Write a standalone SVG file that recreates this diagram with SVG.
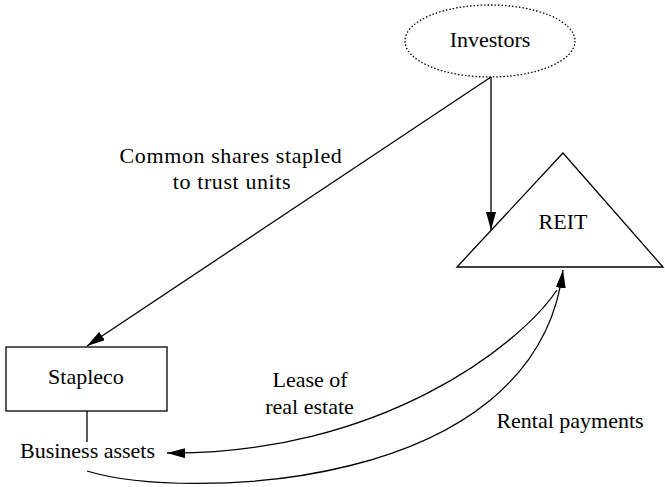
<svg xmlns="http://www.w3.org/2000/svg" width="665" height="487" viewBox="0 0 665 487">
<style>
  .shape { fill: #ffffff; stroke: #000000; stroke-width: 1.3; }
  .conn { fill: none; stroke: #000000; stroke-width: 1.3; }
</style>
<defs>
  <marker id="arrow" markerUnits="userSpaceOnUse" markerWidth="18" markerHeight="10" refX="18" refY="5" orient="auto">
    <path d="M0,0 L18,5 L0,10 Z" fill="#000000"/>
  </marker>
</defs>
<rect width="665" height="487" fill="#ffffff"/>

<g id="investors">
  <ellipse cx="490" cy="41" rx="85" ry="36" fill="#ffffff" stroke="#000000" stroke-width="1.3" stroke-dasharray="1.5 2"/>
  <text x="490" y="47" font-size="22" font-family="Times New Roman, serif" text-anchor="middle">Investors</text>
</g>

<g id="reit">
  <polygon class="shape" points="563,153 457,267 663,267"/>
  <text x="563" y="229" font-size="22" font-family="Times New Roman, serif" text-anchor="middle">REIT</text>
</g>

<g id="stapleco">
  <rect class="shape" x="6" y="347" width="161" height="64"/>
  <text x="86" y="384" font-size="22" font-family="Times New Roman, serif" text-anchor="middle">Stapleco</text>
</g>

<g id="business-assets">
  <line class="conn" x1="87" y1="411" x2="87" y2="442"/>
  <text x="87.5" y="458" font-size="22" font-family="Times New Roman, serif" text-anchor="middle">Business assets</text>
</g>

<g id="connectors">
  <line class="conn" x1="491" y1="77" x2="491" y2="230" marker-end="url(#arrow)"/>
  <line class="conn" x1="491" y1="77" x2="87" y2="346" marker-end="url(#arrow)"/>
  <path class="conn" d="M557,290 C520,345 380,455 167,453" marker-end="url(#arrow)"/>
  <path class="conn" d="M87,471 C180,500 535,495 563,270" marker-end="url(#arrow)"/>
</g>

<g id="labels">
  <text x="231" y="163" font-size="22" font-family="Times New Roman, serif" text-anchor="middle" letter-spacing="0.6">Common shares stapled</text>
  <text x="232" y="189" font-size="22" font-family="Times New Roman, serif" text-anchor="middle" letter-spacing="0.6">to trust units</text>
  <text x="310" y="387" font-size="22" font-family="Times New Roman, serif" text-anchor="middle">Lease of</text>
  <text x="309.5" y="414" font-size="22" font-family="Times New Roman, serif" text-anchor="middle">real estate</text>
  <text x="570" y="428" font-size="22" font-family="Times New Roman, serif" text-anchor="middle">Rental payments</text>
</g>
</svg>
